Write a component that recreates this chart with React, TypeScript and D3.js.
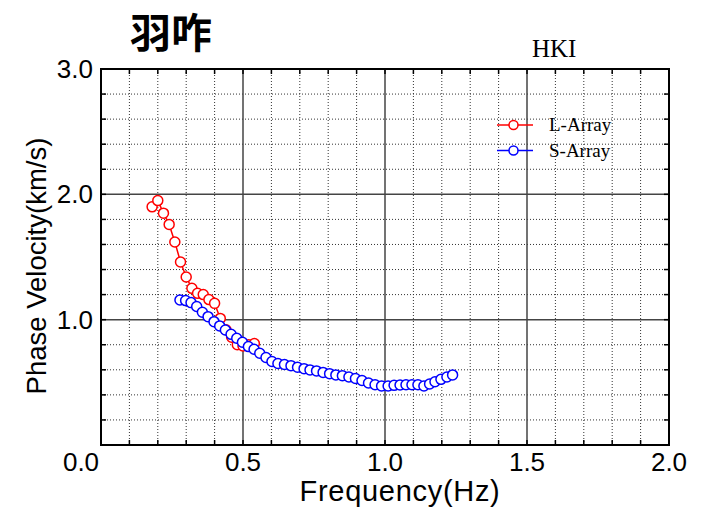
import React from 'react'
import * as d3 from 'd3'

// L-Array (red) and S-Array (blue) dispersion curves
const lFreq = [0.18, 0.20, 0.22, 0.24, 0.26, 0.28, 0.30, 0.32, 0.34, 0.36, 0.38, 0.40, 0.42, 0.44, 0.46, 0.48, 0.50, 0.52, 0.54]
const lVel = [1.90, 1.95, 1.85, 1.76, 1.62, 1.46, 1.34, 1.25, 1.21, 1.20, 1.16, 1.13, 1.01, 0.92, 0.86, 0.80, 0.79, 0.80, 0.81]

const sFreq = [0.278, 0.298, 0.317, 0.337, 0.357, 0.377, 0.398, 0.418, 0.438, 0.458, 0.478, 0.498, 0.519, 0.539, 0.559, 0.581, 0.602, 0.623, 0.646, 0.669, 0.692, 0.715, 0.736, 0.759, 0.782, 0.805, 0.827, 0.850, 0.873, 0.896, 0.919, 0.942, 0.965, 0.988, 1.011, 1.032, 1.053, 1.074, 1.095, 1.116, 1.137, 1.157, 1.176, 1.197, 1.218, 1.238]
const sVel = [1.157, 1.152, 1.136, 1.105, 1.059, 1.024, 0.984, 0.950, 0.918, 0.883, 0.852, 0.820, 0.785, 0.764, 0.732, 0.698, 0.666, 0.650, 0.642, 0.633, 0.620, 0.609, 0.599, 0.591, 0.579, 0.569, 0.559, 0.553, 0.543, 0.531, 0.515, 0.495, 0.481, 0.471, 0.471, 0.476, 0.479, 0.481, 0.481, 0.481, 0.471, 0.487, 0.505, 0.524, 0.543, 0.559]

const xTicks = [0, 0.5, 1.0, 1.5, 2.0]
const yTicks = [1.0, 2.0, 3.0]
const seriesNames = ['L-Array', 'S-Array']
const seriesColors = ['#ff0000', '#0000ff']

const W = 704
const H = 512
const left = 101, right = 669, top = 69, bottom = 445

const App = () => {
    const x = d3.scaleLinear([0, 2], [left, right])
    const y = d3.scaleLinear([0, 3], [bottom, top])

    const minorX = d3.range(1, 20).map(i => i / 10)
    const minorY = d3.range(1, 15).map(i => i / 5)

    const line = d3.line<[number, number]>().x(d => x(d[0])).y(d => y(d[1]))
    const series = [
        lFreq.map((f, i) => [f, lVel[i]] as [number, number]),
        sFreq.map((f, i) => [f, sVel[i]] as [number, number]),
    ]

    const sans = 'Liberation Sans, Arial, sans-serif'
    const serif = 'Liberation Serif, Times New Roman, serif'

    return (
        <div style={{ position: 'fixed', left: 0, top: 0 }}>
            <svg width={W} height={H} style={{ display: 'block', background: '#fff' }}>
                <text x={130} y={48} fontFamily="Noto Sans CJK JP" fontWeight="bold" fontSize={41}>羽咋</text>
                <text x={532} y={57} fontFamily={serif} fontSize={25}>HKI</text>

                {/* minor dotted grid */}
                {minorX.filter(v => Math.abs(v * 2 - Math.round(v * 2)) > 1e-6).map(v => (
                    <line key={'mx' + v} x1={x(v)} x2={x(v)} y1={top} y2={bottom} stroke="#333" strokeWidth={1} strokeDasharray="1,2" />
                ))}
                {minorY.filter(v => Math.abs(v - Math.round(v)) > 1e-6).map(v => (
                    <line key={'my' + v} x1={left} x2={right} y1={y(v)} y2={y(v)} stroke="#333" strokeWidth={1} strokeDasharray="1,2" />
                ))}
                {/* major grid */}
                {[0.5, 1.0, 1.5].map(v => (
                    <line key={'Mx' + v} x1={x(v)} x2={x(v)} y1={top} y2={bottom} stroke="#444" strokeWidth={1.5} />
                ))}
                {[1.0, 2.0].map(v => (
                    <line key={'My' + v} x1={left} x2={right} y1={y(v)} y2={y(v)} stroke="#444" strokeWidth={1.5} />
                ))}
                {/* inward ticks */}
                {minorX.map(v => (
                    <g key={'tx' + v}>
                        <line x1={x(v)} x2={x(v)} y1={bottom} y2={bottom - 5} stroke="#000" strokeWidth={1.5} />
                        <line x1={x(v)} x2={x(v)} y1={top} y2={top + 5} stroke="#000" strokeWidth={1.5} />
                    </g>
                ))}
                {minorY.map(v => (
                    <g key={'ty' + v}>
                        <line x1={left} x2={left + 5} y1={y(v)} y2={y(v)} stroke="#000" strokeWidth={1.5} />
                        <line x1={right} x2={right - 5} y1={y(v)} y2={y(v)} stroke="#000" strokeWidth={1.5} />
                    </g>
                ))}
                <rect x={left} y={top} width={right - left} height={bottom - top} fill="none" stroke="#000" strokeWidth={2} />

                {/* tick labels */}
                {xTicks.map(v => (
                    <text key={'xl' + v} x={x(v) + (v === 0 ? -20 : 0)} y={471} textAnchor="middle" fontFamily={sans} fontSize={26}>{v.toFixed(1)}</text>
                ))}
                {yTicks.map(v => (
                    <text key={'yl' + v} x={93} y={y(v) + 9} textAnchor="end" fontFamily={sans} fontSize={26}>{v.toFixed(1)}</text>
                ))}
                <text x={(left + right) / 2 + 15} y={501} textAnchor="middle" fontFamily={sans} fontSize={29} letterSpacing={0.7}>Frequency(Hz)</text>
                <text transform={`translate(46,${(top + bottom) / 2 + 9}) rotate(-90)`} textAnchor="middle" fontFamily={sans} fontSize={27.5}>Phase Velocity(km/s)</text>

                {/* data */}
                {series.map((pts, si) => (
                    <g key={'s' + si}>
                        <path d={line(pts) || ''} fill="none" stroke={seriesColors[si]} strokeWidth={1.5} />
                        {pts.map((p, i) => (
                            <circle key={i} cx={x(p[0])} cy={y(p[1])} r={5} fill="#fff" stroke={seriesColors[si]} strokeWidth={1.5} />
                        ))}
                    </g>
                ))}

                {/* legend */}
                {seriesNames.map((name, i) => (
                    <g key={name} transform={`translate(0,${125 + i * 25.5})`}>
                        <line x1={497} x2={533} y1={0} y2={0} stroke={seriesColors[i]} strokeWidth={1.5} />
                        <circle cx={513.5} cy={0} r={4.5} fill="#fff" stroke={seriesColors[i]} strokeWidth={1.5} />
                        <text x={549} y={6} fontFamily={serif} fontSize={19}>{name}</text>
                    </g>
                ))}
            </svg>
        </div>
    )
}

export default App
